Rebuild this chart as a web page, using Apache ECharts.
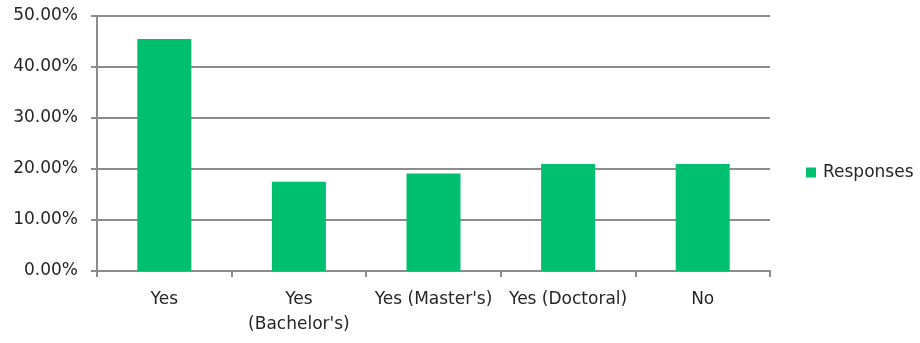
<!DOCTYPE html>
<html>
<head>
<meta charset="utf-8">
<script src="https://cdn.jsdelivr.net/npm/echarts@6/dist/echarts.min.js"></script>
<style>
  html, body { margin: 0; padding: 0; background: #fff; }
  #chart { width: 920px; height: 343px; }
</style>
</head>
<body>
<div id="chart"></div>
<script>
// Answer categories and share of responses (percent)
const categories = ["Yes", "Yes\n(Bachelor's)", "Yes (Master's)", "Yes (Doctoral)", "No"];
const responses = [45.5, 17.5, 19.1, 21.0, 21.0];
const seriesName = "Responses";

const FONT = "'DejaVu Sans', 'Open Sans', sans-serif";
const FONT_SIZE = 17;
const TEXT = "#262626";
const GRID = "#8c8c8c";

const chart = echarts.init(document.getElementById('chart'), null, { renderer: 'canvas' });
chart.setOption({
  animation: false,
  textStyle: { fontFamily: FONT },
  grid: { left: 97, right: 150, top: 16, bottom: 72 },
  legend: {
    data: [seriesName],
    orient: 'vertical',
    left: 801,
    top: 159,
    itemWidth: 10,
    itemHeight: 10,
    itemGap: 7,
    icon: 'rect',
    textStyle: { fontFamily: FONT, fontSize: FONT_SIZE, color: TEXT, padding: [0, 0, 0, 2] }
  },
  xAxis: {
    type: 'category',
    data: categories,
    boundaryGap: true,
    axisLine: { lineStyle: { color: GRID, width: 2 } },
    axisTick: { show: true, alignWithLabel: false, length: 6, lineStyle: { color: GRID, width: 2 } },
    axisLabel: {
      interval: 0,
      margin: 16,
      fontFamily: FONT,
      fontSize: FONT_SIZE,
      color: TEXT,
      lineHeight: 25
    }
  },
  yAxis: {
    type: 'value',
    min: 0,
    max: 50,
    interval: 10,
    axisLine: { show: true, lineStyle: { color: GRID, width: 2 } },
    axisTick: { show: true, length: 6, lineStyle: { color: GRID, width: 2 } },
    splitLine: { show: true, lineStyle: { color: GRID, width: 2 } },
    axisLabel: {
      margin: 19,
      fontFamily: FONT,
      fontSize: FONT_SIZE,
      color: TEXT,
      formatter: v => v.toFixed(2) + '%'
    }
  },
  series: [{
    name: seriesName,
    type: 'bar',
    data: responses,
    barWidth: 54,
    itemStyle: { color: '#00bf6f' }
  }]
});
</script>
</body>
</html>
